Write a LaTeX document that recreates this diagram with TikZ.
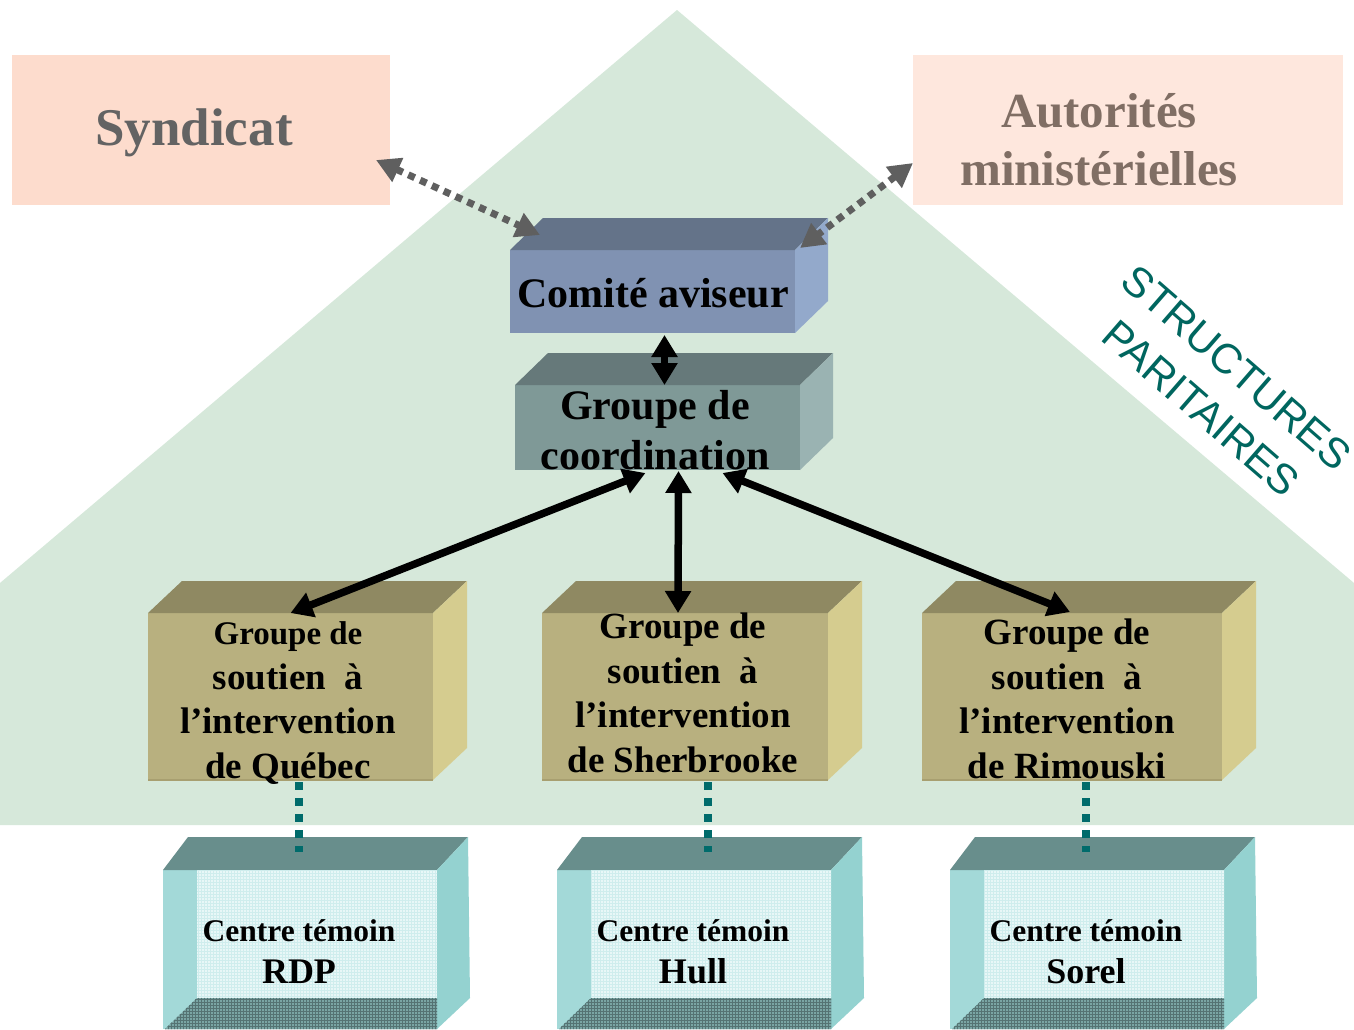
\documentclass[tikz,border=0pt]{standalone}
\usepackage{fontspec}
\setmainfont{Liberation Serif}
\setsansfont{Liberation Sans}
\usetikzlibrary{arrows.meta,calc,patterns}
\definecolor{bggreen}{HTML}{D6E8DA}
\definecolor{syndfill}{HTML}{FDDCCD}
\definecolor{autfill}{HTML}{FEE7DD}
\definecolor{syndtext}{HTML}{636363}
\definecolor{auttext}{HTML}{806E64}
\definecolor{comfront}{HTML}{8092B2}
\definecolor{comtop}{HTML}{647389}
\definecolor{comside}{HTML}{93A9CB}
\definecolor{coofront}{HTML}{7F9997}
\definecolor{cootop}{HTML}{66797A}
\definecolor{cooside}{HTML}{9AB3B2}
\definecolor{soufront}{HTML}{B8B07F}
\definecolor{soutop}{HTML}{8F8962}
\definecolor{souside}{HTML}{D5CC8F}
\definecolor{souedge}{HTML}{A89F70}
\definecolor{ctopc}{HTML}{688E8C}
\definecolor{csidec}{HTML}{94D2D0}
\definecolor{cleftc}{HTML}{A3D9D8}
\definecolor{cmidc}{HTML}{E8F7F7}
\definecolor{cbotc}{HTML}{7AA5A4}
\definecolor{cgridc}{HTML}{CFEDED}
\definecolor{tealc}{HTML}{006B6B}
\definecolor{tealtext}{HTML}{00665F}
\definecolor{arrowgray}{HTML}{5F5F5F}
\tikzset{
  front/.style={inner sep=0pt, outer sep=0pt, anchor=north west},
  blk/.style={draw=black, line width=7.5pt, {Triangle[length=22pt,width=25pt]}-{Triangle[length=22pt,width=25pt]}},
  gry/.style={draw=arrowgray, line width=7pt, dash pattern=on 7pt off 6pt, {Triangle[length=24pt,width=25pt]}-{Triangle[length=24pt,width=25pt]}},
  tealdot/.style={draw=tealc, line width=8pt, dash pattern=on 8pt off 8pt},
  stext/.style={font=\bfseries\fontsize{37}{44.5}\selectfont, align=center, inner sep=0pt},
  ctext/.style={font=\bfseries\fontsize{31.5}{42}\selectfont, align=center, inner sep=0pt},
}
\newcommand\topside[5]{% name, dx, dy, top colour, side colour
  \fill[#4] (#1.north west) -- ++(#2,#3) -- ($(#1.north east)+(#2,#3)$) -- (#1.north east) -- cycle;
  \fill[#5] (#1.north east) -- ++(#2,#3) -- ($(#1.south east)+(#2,#3)$) -- (#1.south east) -- cycle;
}
\newcommand\centrebox[3]{% name, left x, place
  \node[front, minimum width=274pt, minimum height=159pt, fill=cleftc] (#1) at (#2,870) {};
  \fill[ctopc] (#1.north west) -- (#1.north east) -- ++(31,-33) -- ($(#1.north west)+(25,-33)$) -- cycle;
  \fill[csidec] (#1.north east) -- ++(31,-33) -- ++(2,161) -- (#1.south east) -- cycle;
  \fill[cmidc] ($(#1.north west)+(34,0)$) rectangle ($(#1.north east)+(0,128)$);
  \fill[pattern=grid, pattern color=cgridc] ($(#1.north west)+(34,0)$) rectangle ($(#1.north east)+(0,128)$);
  \fill[cbotc] ($(#1.north west)+(34,128)$) -- ($(#1.north east)+(0,128)$) -- (#1.south east) -- ($(#1.south west)+(2,0)$) -- cycle;
  \fill[pattern=grid, pattern color=cbotc!70!black] ($(#1.north west)+(34,128)$) -- ($(#1.north east)+(0,128)$) -- (#1.south east) -- ($(#1.south west)+(2,0)$) -- cycle;
  \node[ctext] (#1t) at ($(#1.north)+(-1,82)$) {Centre témoin\\{\fontsize{36}{42}\selectfont #3}};
}
\begin{document}
\begin{tikzpicture}[x=1pt,y=-1pt]
\useasboundingbox (0,0) rectangle (1354,1029);
\fill[white] (0,0) rectangle (1354,1029);
\fill[bggreen] (677,10) -- (1354,583) -- (1354,825) -- (0,825) -- (0,583) -- cycle;

% top boxes
\node[front, fill=syndfill, minimum width=378pt, minimum height=150pt] (synd) at (12,55) {};
\node[font=\bfseries\fontsize{53}{60}\selectfont, text=syndtext, inner sep=0pt] (syndt) at (194,133) {Syndicat};
\node[front, fill=autfill, minimum width=430pt, minimum height=150pt] (aut) at (913,55) {};
\node[font=\bfseries\fontsize{49}{58}\selectfont, text=auttext, align=center, inner sep=0pt] (autt) at (1099,140) {Autorités\\ministérielles};

% Comite
\node[front, fill=comfront, minimum width=285pt, minimum height=83pt] (comite) at (510,250) {};
\topside{comite}{33}{-32}{comtop}{comside}
\node[font=\bfseries\fontsize{42}{50}\selectfont, inner sep=0pt] (comitet) at (653,293) {Comité aviseur};

% Coordination
\node[front, fill=coofront, minimum width=285pt, minimum height=85pt] (coord) at (515,385) {};
\topside{coord}{33}{-32}{cootop}{cooside}
\node[font=\bfseries\fontsize{42}{50}\selectfont, align=center, inner sep=0pt] (coordt) at (655,430) {Groupe de\\coordination};

% Soutien boxes
\node[front, fill=soufront, minimum width=285pt, minimum height=167pt] (sq) at (148,613) {};
\topside{sq}{34}{-32}{soutop}{souside}
\draw[souedge, line width=1.5pt] (sq.south west) -- (sq.south east);
\node[stext] (sqt) at (288,703) {{\fontsize{33}{44}\selectfont Groupe de}\\soutien~~à\\l’intervention\\de Québec};

\node[front, fill=soufront, minimum width=286pt, minimum height=167pt] (ss) at (542,613) {};
\topside{ss}{34}{-32}{soutop}{souside}
\draw[souedge, line width=1.5pt] (ss.south west) -- (ss.south east);
\node[stext] (sst) at (683,693) {Groupe de\\soutien~~à\\l’intervention\\de Sherbrooke};

\node[front, fill=soufront, minimum width=300pt, minimum height=167pt] (sr) at (922,613) {};
\topside{sr}{34}{-32}{soutop}{souside}
\draw[souedge, line width=1.5pt] (sr.south west) -- (sr.south east);
\node[stext] (srt) at (1067,699) {Groupe de\\soutien~~à\\l’intervention\\de Rimouski};

% Centre boxes
\centrebox{crdp}{163}{RDP}
\centrebox{chull}{557}{Hull}
\centrebox{csor}{950}{Sorel}

% label
\node[rotate=-41, font=\sffamily\fontsize{42}{54}\selectfont, text=tealtext, align=center, inner sep=0pt] (sp) at (1219,388) {STRUCTURES\\PARITAIRES};

% connectors
\draw[gry] ($(synd.east)+(-14,30)$) -- ($(comite.north west)+(30,-15)$);
\draw[gry] ($(aut.west)+(0,33)$) -- ($(comite.north east)+(5,-2)$);
\draw[blk] ($(comite.south)+(12,2)$) -- ($(coord.north)+(7,0)$);
\draw[blk] ($(coord.south)+(-12,3)$) -- (sq.north);
\draw[blk] ($(coord.south)+(21,1)$) -- ($(ss.north)+(-7,0)$);
\draw[blk] ($(coord.south)+(65,3)$) -- ($(sr.north)+(-2,-1)$);
\draw[tealdot] ($(sq.south)+(8.5,2)$) -- ($(crdp.north)+(-1,-18)$);
\draw[tealdot] ($(ss.south)+(23,2)$) -- ($(chull.north)+(14,-18)$);
\draw[tealdot] ($(sr.south)+(14,2)$) -- ($(csor.north)+(-1,-18)$);
\end{tikzpicture}
\end{document}
